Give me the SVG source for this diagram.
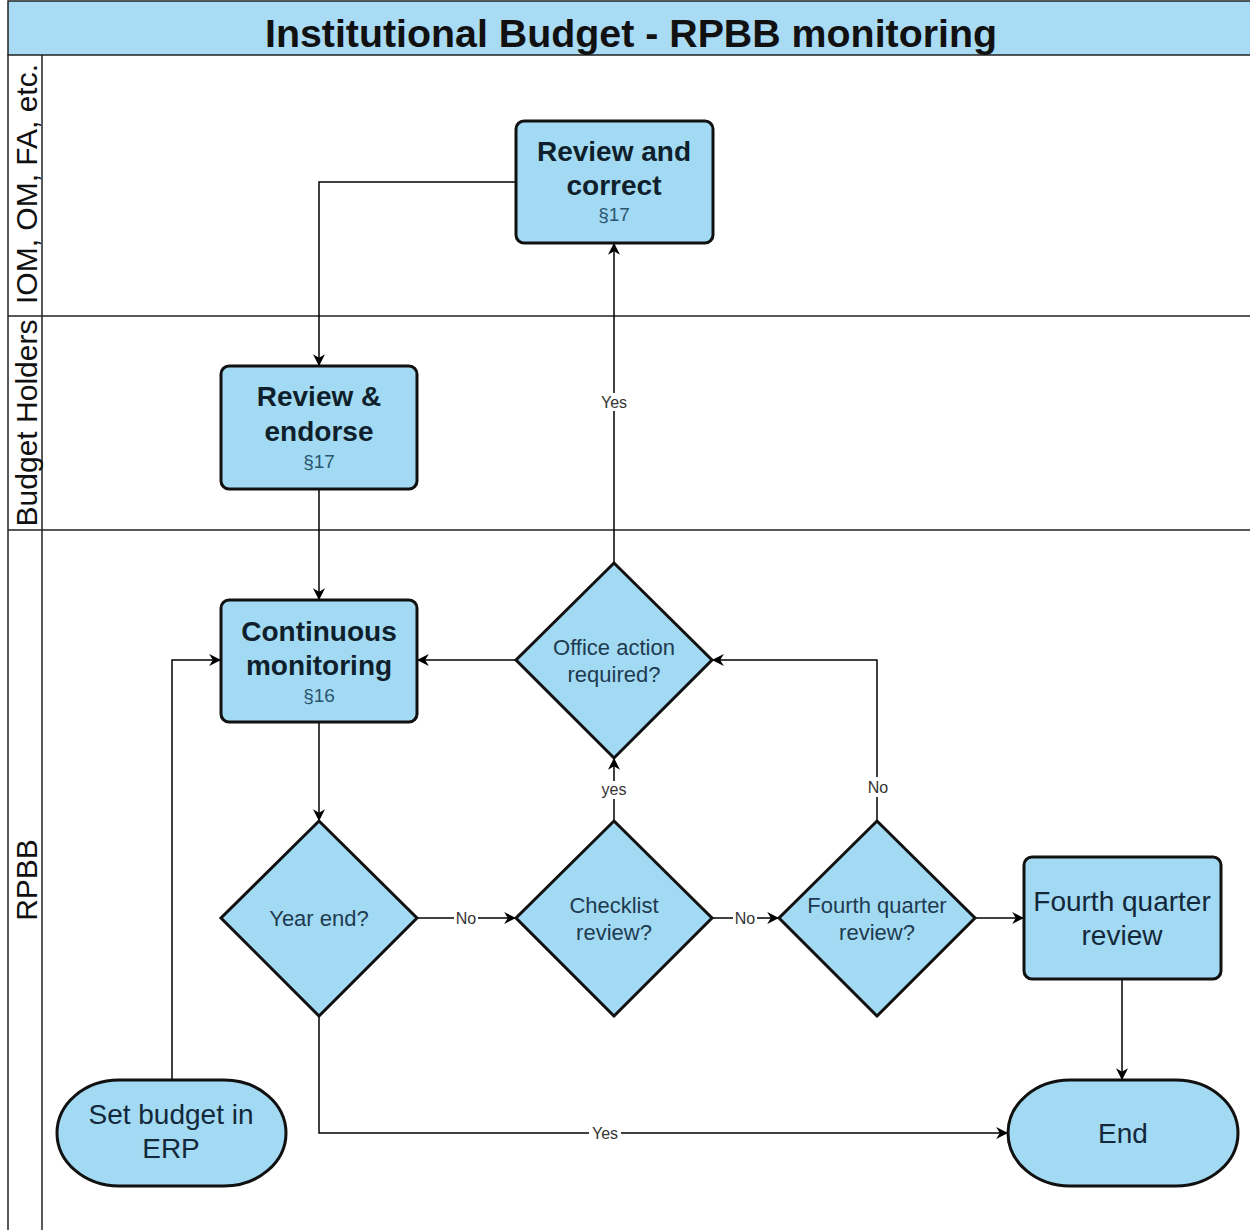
<svg xmlns="http://www.w3.org/2000/svg" width="1250" height="1230" viewBox="0 0 1250 1230">
<defs>
<marker id="ah" viewBox="0 0 10 10" refX="9" refY="5" markerWidth="12" markerHeight="12" markerUnits="userSpaceOnUse" orient="auto">
<path d="M0,0 L10,5 L0,10 L3,5 Z" fill="#000"/>
</marker>
<style>
.lane{fill:none;stroke:#222;stroke-width:1.5}
.node{fill:#a3daf3;stroke:#111;stroke-width:3}
.b{font-family:"Liberation Sans",Arial,sans-serif;font-weight:bold;font-size:28px;fill:#0f1f2c;text-anchor:middle}
.r{font-family:"Liberation Sans",Arial,sans-serif;font-size:28px;fill:#13283a;text-anchor:middle}
.d{font-family:"Liberation Sans",Arial,sans-serif;font-size:22px;fill:#1e3a50;text-anchor:middle}
.s{font-family:"Liberation Sans",Arial,sans-serif;font-size:19px;fill:#2a5570;text-anchor:middle}
.lbl{font-family:"Liberation Sans",Arial,sans-serif;font-size:16px;fill:#333;text-anchor:middle}
.lt{font-family:"Liberation Sans",Arial,sans-serif;font-size:30px;fill:#111;text-anchor:middle}
.c{fill:none;stroke:#000;stroke-width:1.5;marker-end:url(#ah)}
.lb{fill:#fff}
</style>
</defs>
<rect x="0" y="0" width="1250" height="1230" fill="#fff"/>
<g id="pool">
<rect x="8" y="1" width="1250" height="54" fill="#a9dcf4" stroke="#222" stroke-width="1.5"/>
<text x="631" y="47" font-family="Liberation Sans, Arial, sans-serif" font-weight="bold" font-size="39" fill="#111" text-anchor="middle" textLength="732" lengthAdjust="spacingAndGlyphs">Institutional Budget - RPBB monitoring</text>
<line class="lane" x1="8" y1="55" x2="8" y2="1230"/>
<line class="lane" x1="42" y1="55" x2="42" y2="1230"/>
<line class="lane" x1="8" y1="316" x2="1250" y2="316"/>
<line class="lane" x1="8" y1="530" x2="1250" y2="530"/>
<text class="lt" transform="translate(37,184) rotate(-90)">IOM, OM, FA, etc.</text>
<text class="lt" transform="translate(37,423) rotate(-90)">Budget Holders</text>
<text class="lt" transform="translate(37,880) rotate(-90)">RPBB</text>
</g>
<g id="connectors">
<polyline class="c" points="516,182 319,182 319,365"/>
<line class="c" x1="319" y1="489" x2="319" y2="599"/>
<polyline class="c" points="172,1080 172,660 220,660"/>
<line class="c" x1="516" y1="660" x2="418" y2="660"/>
<line class="c" x1="614" y1="563" x2="614" y2="244"/>
<line class="c" x1="319" y1="722" x2="319" y2="820"/>
<line class="c" x1="417" y1="918" x2="515" y2="918"/>
<line class="c" x1="712" y1="918" x2="778" y2="918"/>
<line class="c" x1="614" y1="821" x2="614" y2="759"/>
<polyline class="c" points="877,821 877,660 713,660"/>
<line class="c" x1="975" y1="918" x2="1023" y2="918"/>
<line class="c" x1="1122" y1="979" x2="1122" y2="1079"/>
<polyline class="c" points="319,1016 319,1133 1007,1133"/>
<rect class="lb" x="598" y="393" width="32" height="18"/>
<text class="lbl" x="614" y="408">Yes</text>
<rect class="lb" x="454" y="910" width="24" height="17"/>
<text class="lbl" x="466" y="924">No</text>
<rect class="lb" x="733" y="910" width="24" height="17"/>
<text class="lbl" x="745" y="924">No</text>
<rect class="lb" x="599" y="781" width="30" height="18"/>
<text class="lbl" x="614" y="795">yes</text>
<rect class="lb" x="864" y="777" width="28" height="20"/>
<text class="lbl" x="878" y="793">No</text>
<rect class="lb" x="589" y="1125" width="32" height="18"/>
<text class="lbl" x="605" y="1139">Yes</text>
</g>
<g id="review-correct">
<rect class="node" x="516" y="121" width="197" height="122" rx="8"/>
<text class="b" x="614" y="161">Review and</text>
<text class="b" x="614" y="195">correct</text>
<text class="s" x="614" y="221">§17</text>
</g>
<g id="review-endorse">
<rect class="node" x="221" y="366" width="196" height="123" rx="8"/>
<text class="b" x="319" y="406">Review &amp;</text>
<text class="b" x="319" y="441">endorse</text>
<text class="s" x="319" y="468">§17</text>
</g>
<g id="continuous-monitoring">
<rect class="node" x="221" y="600" width="196" height="122" rx="8"/>
<text class="b" x="319" y="641">Continuous</text>
<text class="b" x="319" y="675">monitoring</text>
<text class="s" x="319" y="702">§16</text>
</g>
<g id="office-action">
<polygon class="node" points="614,563 712,660 614,758 516,660"/>
<text class="d" x="614" y="655">Office action</text>
<text class="d" x="614" y="682">required?</text>
</g>
<g id="year-end">
<polygon class="node" points="319,821 417,918 319,1016 221,918"/>
<text class="d" x="319" y="926">Year end?</text>
</g>
<g id="checklist">
<polygon class="node" points="614,821 712,918 614,1016 516,918"/>
<text class="d" x="614" y="913">Checklist</text>
<text class="d" x="614" y="940">review?</text>
</g>
<g id="fourth-quarter-q">
<polygon class="node" points="877,821 975,918 877,1016 779,918"/>
<text class="d" x="877" y="913">Fourth quarter</text>
<text class="d" x="877" y="940">review?</text>
</g>
<g id="fourth-quarter-review">
<rect class="node" x="1024" y="857" width="197" height="122" rx="8"/>
<text class="r" x="1122" y="911">Fourth quarter</text>
<text class="r" x="1122" y="945">review</text>
</g>
<g id="set-budget">
<rect class="node" x="57" y="1080" width="229" height="106" rx="62" ry="53"/>
<text class="r" x="171" y="1124">Set budget in</text>
<text class="r" x="171" y="1158">ERP</text>
</g>
<g id="end">
<rect class="node" x="1008" y="1080" width="230" height="106" rx="62" ry="53"/>
<text class="r" x="1123" y="1143">End</text>
</g>
</svg>
